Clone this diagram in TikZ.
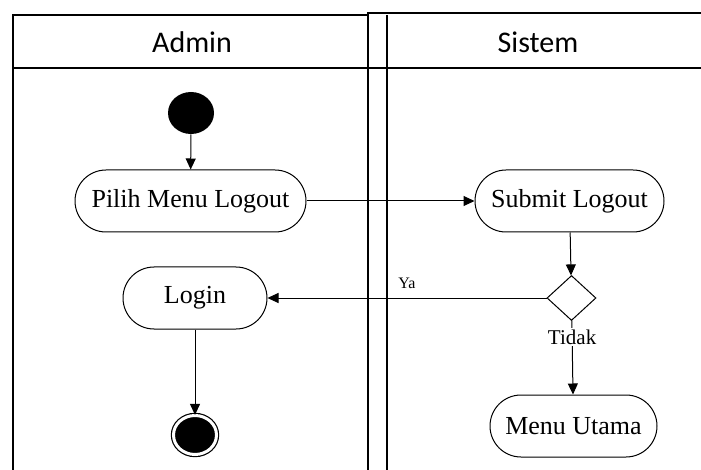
\documentclass[tikz,border=0pt]{standalone}
\usepackage{fontspec}
\setmainfont{Liberation Serif}
\newfontfamily\lanefont{Carlito}
\usetikzlibrary{shapes.geometric, arrows.meta}

\begin{document}
\begin{tikzpicture}[->, >={Triangle[length=5.5pt,width=5pt]}, x=0.5pt, y=-0.5pt, line width=0.5pt]
                \tikzstyle{activity}=[draw=black,fill=white,rounded corners=15.5pt,minimum height=31pt,inner sep=3pt,font=\fontsize{13}{16}\selectfont]
                \tikzstyle{start}=[ellipse,fill=black,minimum width=23pt,minimum height=21pt,inner sep=0pt]
                \tikzstyle{stop}=[ellipse,draw=black,fill=black,double=white,double distance=1.5pt,line width=0.6pt,minimum width=21.5pt,minimum height=19.5pt,inner sep=0pt]
                \tikzstyle{decision}=[diamond,draw=black,fill=white,minimum width=24.5pt,minimum height=22.5pt,inner sep=0pt]
                \tikzstyle{lane}=[-,line width=1pt]
                \tikzstyle{lanelabel}=[font=\lanefont\fontsize{15}{18}\selectfont]

                \useasboundingbox (0,0) rectangle (701,470);

                % swimlanes
                \draw[lane] (12.5,470) -- (12.5,15) -- (368,15);
                \draw[lane] (368,470) -- (368,13) -- (701,13);
                \draw[lane] (387,470) -- (387,15);
                \draw[lane] (12.5,68) -- (701,68);
                \node[lanelabel] at (192,42) (Ad) {Admin};
                \node[lanelabel] at (538,42) (Si) {Sistem};

                \node[start] at (191,113) (S) {};
                \node[activity, minimum width=115.5pt] at (190.5,201) (PML) {Pilih Menu Logout};
                \node[activity, minimum width=94.5pt] at (569.5,201) (SL) {Submit Logout};
                \node[decision] at (571.5,298) (D) {};
                \node[activity, minimum width=72pt] at (195,298) (L) {Login};
                \node[activity, minimum width=83.5pt] at (573.5,426) (MU) {Menu Utama};
                \node[stop] at (195,435) (E) {};

                \path
                (S) edge (PML)
                (PML) edge (SL)
                (SL) edge (D)
                (D) edge node[above, inner sep=4.5pt, font=\fontsize{8}{10}\selectfont]{Ya} (L)
                (D) edge node[fill=white, pos=0.22, inner sep=1pt, font=\fontsize{10.5}{12}\selectfont]{Tidak} (MU)
                (L) edge (E);
            \end{tikzpicture}
\end{document}
